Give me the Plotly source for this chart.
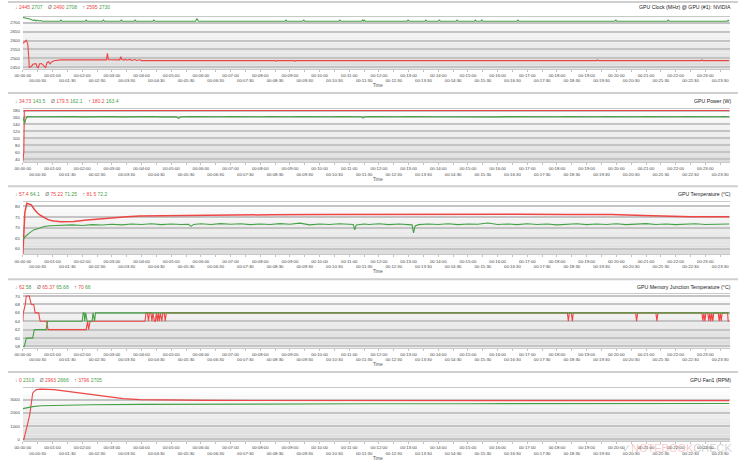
import plotly.graph_objects as go

W, H = 738, 466
RED = "#ee4545"
GREEN = "#46a046"
FONT = "Liberation Sans"

# ---------------- data (time in seconds) ----------------
CLOCK_RED_T = [0, 3, 7, 10, 12, 13, 17, 20, 23, 27, 29, 31, 34, 37, 40, 43, 46, 49, 52, 55, 59, 63, 70, 77,
               169, 171, 173, 196, 198, 200, 205, 207, 210, 215, 217, 220, 225, 227, 230, 235, 237, 240,
               256, 258, 260, 268, 270, 272, 281, 283, 285, 290, 292, 294, 393, 395, 397,
               510, 512, 514, 548, 550, 552, 580, 582, 585, 588, 591, 594, 598, 628, 630, 633, 636, 638,
               668, 670, 673, 676, 678, 700, 702, 706, 710, 714, 718, 722, 726, 730, 734, 736,
               1160, 1162, 1164, 1371, 1373, 1375, 1428]
CLOCK_RED_V = [2585, 2590, 2602, 2580, 2505, 2450, 2455, 2466, 2470, 2470, 2452, 2448, 2470, 2472, 2467, 2460, 2448, 2478, 2482, 2470, 2482, 2487, 2490, 2492,
               2492, 2528, 2493, 2492, 2510, 2494, 2491, 2496, 2490, 2491, 2495, 2489, 2490, 2494, 2489, 2489, 2493, 2488,
               2488, 2492, 2488, 2488, 2492, 2488, 2488, 2492, 2488, 2488, 2492, 2488, 2488, 2492, 2488,
               2488, 2484, 2488, 2488, 2484, 2488, 2488, 2484, 2488, 2484, 2488, 2484, 2488, 2488, 2484, 2488, 2484, 2488,
               2488, 2484, 2488, 2484, 2488, 2488, 2484, 2488, 2484, 2488, 2484, 2488, 2484, 2488, 2484, 2488,
               2488, 2492, 2488, 2488, 2492, 2488, 2488]

CLOCK_GREEN_T = [0, 5, 10, 14, 18, 21, 24, 27, 30, 33, 36, 40, 45,
                 75, 77, 79, 126, 128, 130, 161, 163, 165, 197, 199, 201, 225, 227, 229, 263, 265, 267, 349, 352, 355,
                 530, 532, 534, 566, 568, 570, 639, 641, 643, 685, 687, 689, 690, 692,
                 777, 779, 781, 813, 815, 817, 840, 842, 844, 876, 878, 880, 913, 915, 917, 926, 928, 930,
                 999, 1001, 1003, 1197, 1199, 1201, 1303, 1305, 1307, 1424, 1426, 1428]
CLOCK_GREEN_V = [2729, 2727, 2724, 2720, 2716, 2712, 2715, 2710, 2713, 2709, 2712, 2708, 2708,
                 2708, 2714, 2708, 2708, 2714, 2708, 2708, 2714, 2708, 2708, 2714, 2708, 2708, 2714, 2708, 2708, 2714, 2708, 2708, 2721, 2708,
                 2708, 2714, 2708, 2708, 2714, 2708, 2708, 2714, 2708, 2708, 2714, 2709, 2714, 2708,
                 2708, 2714, 2708, 2708, 2714, 2708, 2708, 2714, 2708, 2708, 2714, 2708, 2708, 2714, 2708, 2708, 2714, 2708,
                 2708, 2714, 2708, 2708, 2714, 2708, 2708, 2714, 2708, 2708, 2713, 2708]

POWER_RED_T = [0, 2, 3, 5, 160, 163, 166, 1428]
POWER_RED_V = [34.73, 60, 179.8, 180.0, 180.0, 180.2, 180.0, 180.0]

POWER_GREEN_T = [0, 2, 4, 6, 9, 20, 40, 60, 80, 100, 120, 140, 160, 180, 200, 220, 240, 260, 280, 300, 310, 315, 320,
                 340, 360, 380, 400, 420, 440, 460, 480, 500, 520, 540, 560, 580, 600, 620, 640, 660, 680, 685, 688, 691,
                 700, 720, 740, 760, 780, 800, 820, 840, 860, 880, 900, 920, 940, 960, 980, 1000, 1020, 1040, 1060, 1080,
                 1100, 1120, 1140, 1160, 1180, 1200, 1220, 1240, 1260, 1280, 1300, 1320, 1340, 1360, 1380, 1400, 1420, 1428]
POWER_GREEN_V = [159.5, 152, 143.5, 156, 162.5, 162.0, 162.6, 161.8, 162.4, 162.9, 161.9, 162.5, 162.1, 162.8, 161.7, 162.4, 162.0, 162.7, 161.9, 162.3, 162.0, 157.5, 162.2,
                 162.6, 161.8, 162.5, 162.1, 162.9, 161.9, 162.4, 162.0, 162.7, 161.8, 162.3, 162.6, 161.9, 162.4, 162.0, 162.8, 161.7, 162.3, 162.0, 158.5, 162.1,
                 162.5, 161.9, 162.6, 162.0, 162.4, 161.8, 162.7, 162.1, 162.3, 161.9, 162.6, 162.0, 162.4, 161.8, 162.5, 162.1, 162.8, 161.9, 162.3, 162.0,
                 162.6, 161.8, 162.4, 162.0, 162.7, 161.9, 162.3, 162.1, 162.6, 161.8, 162.4, 162.0, 162.5, 161.9, 162.3, 162.1, 162.5, 162.2]

TEMP_RED_T = [0, 2, 4, 8, 12, 17, 23, 30, 37, 44, 50, 57, 63, 77, 90, 103, 130, 157, 183, 210, 237, 270, 303, 370, 437,
              500, 600, 700, 800, 900, 1000, 1100, 1190, 1255, 1300, 1350, 1400, 1428]
TEMP_RED_V = [57.4, 66, 77, 81.5, 81.3, 80.8, 78.7, 76.8, 75.6, 74.6, 73.9, 73.4, 73.1, 72.8, 72.75, 72.9, 73.6, 74.2, 74.7, 75.1, 75.5, 75.6, 75.7, 75.9, 76.0,
              76.1, 76.2, 76.3, 76.3, 76.2, 76.3, 76.2, 76.2, 75.7, 75.4, 75.2, 75.1, 75.1]

TEMP_GREEN_T = [0, 5, 13, 22, 33, 43, 55, 66, 80, 100, 120, 140, 160, 180, 200, 220, 240, 260, 280, 300, 320, 335, 340, 345,
                360, 380, 400, 420, 440, 460, 480, 500, 520, 540, 560, 580, 600, 620, 640, 660, 668, 671, 674, 690, 700, 720,
                740, 760, 780, 787, 790, 793, 800, 820, 840, 860, 880, 900, 920, 940, 960, 980, 1000, 1020, 1040, 1060, 1080,
                1100, 1120, 1140, 1160, 1180, 1200, 1220, 1240, 1260, 1280, 1300, 1320, 1340, 1360, 1380, 1400, 1420, 1428]
TEMP_GREEN_V = [64.1, 65.8, 67.4, 68.9, 69.7, 70.5, 70.9, 71.0, 70.8, 71.3, 71.0, 71.4, 71.2, 71.6, 71.3, 71.7, 71.5, 71.8, 71.4, 71.7, 71.5, 71.6, 70.6, 71.5,
                71.8, 71.5, 71.9, 71.6, 71.8, 71.4, 71.7, 71.5, 71.9, 71.6, 72.1, 71.3, 71.7, 71.5, 71.8, 71.6, 71.5, 68.9, 71.2, 71.7, 71.5, 71.8,
                71.4, 71.7, 71.5, 71.3, 67.5, 70.8, 71.4, 71.7, 71.5, 71.8, 71.4, 71.7, 71.6, 72.2, 71.5, 71.7, 71.4, 71.8, 71.5, 71.7, 71.3,
                71.6, 71.8, 71.4, 71.7, 71.5, 71.8, 71.4, 71.6, 71.9, 71.5, 71.7, 71.4, 71.6, 71.8, 71.5, 71.7, 71.6, 71.7]

MEM_RED_T = [0, 1, 5, 7, 13, 17, 22, 25, 32, 35, 48, 51, 128, 131, 133, 136,
             247, 249, 252, 254, 256, 259, 261, 263, 266, 268, 270, 272, 274, 276, 278, 281, 283, 286, 288, 290,
             1101, 1103, 1105, 1109, 1111, 1113, 1239, 1241, 1243, 1280, 1282, 1284,
             1373, 1375, 1377, 1379, 1381, 1385, 1387, 1389, 1391, 1393, 1395, 1397, 1399,
             1406, 1408, 1410, 1412, 1414, 1425, 1426, 1428]
MEM_RED_V = [64, 66, 68, 70, 70, 68, 68, 66, 66, 64, 64, 62, 62, 64, 62, 64,
             64, 66, 66, 64, 66, 66, 64, 66, 64, 64, 66, 64, 66, 64, 66, 64, 66, 66, 64, 66,
             66, 64, 66, 66, 64, 66, 66, 64, 66, 66, 64, 66,
             66, 64, 66, 64, 66, 66, 64, 66, 64, 66, 64, 66, 66,
             66, 64, 66, 64, 66, 66, 64, 64]

MEM_GREEN_T = [0, 3, 7, 20, 23, 47, 50, 120, 122, 124, 125, 127, 130, 140, 142, 145, 147, 1428]
MEM_GREEN_V = [58, 58, 60, 60, 62, 62, 64, 64, 66, 66, 64, 66, 64, 64, 66, 64, 66, 66]

FAN_RED_T = [0, 2, 7, 9, 11, 14, 17, 20, 27, 33, 37, 63, 103, 137, 170, 203, 237, 303, 370, 470, 600, 800, 1000, 1200, 1428]
FAN_RED_V = [0, 0, 750, 1250, 1375, 1870, 2870, 3500, 3750, 3796, 3790, 3750, 3550, 3370, 3200, 3075, 3000, 2950, 2940, 2930, 2930, 2925, 2925, 2920, 2920]

FAN_GREEN_T = [0, 8, 20, 37, 70, 137, 237, 350, 500, 700, 900, 1100, 1300, 1428]
FAN_GREEN_V = [2319, 2400, 2470, 2530, 2570, 2610, 2640, 2660, 2672, 2682, 2690, 2697, 2702, 2705]

TITLES = ["GPU Clock (MHz) @ GPU (#1): NVIDIA", "GPU Power (W)", "GPU Temperature (°C)",
          "GPU Memory Junction Temperature (°C)", "GPU Fan1 (RPM)"]
MIN_VALUES = [("2445", "2707"), ("34.73", "143.5"), ("57.4", "64.1"), ("62", "58"), ("0", "2319")]
AVG_VALUES = [("2490", "2708"), ("179.5", "162.1"), ("75.22", "71.25"), ("65.37", "65.68"), ("2963", "2666")]
MAX_VALUES = [("2595", "2730"), ("180.2", "163.4"), ("81.5", "72.2"), ("70", "66"), ("3796", "2705")]

Y_TICKS = [[2450, 2500, 2550, 2600, 2650, 2700],
           [40, 60, 80, 100, 120, 140, 160, 180],
           [60, 65, 70, 75, 80],
           [58, 60, 62, 64, 66, 68, 70],
           [0, 1000, 2000, 3000]]
Y_RANGES = [[2442.8, 2731.7], [31.4, 185.7], [57.3, 82.3], [57.76, 70.54], [-128, 3885]]

TICK_SECONDS = list(range(0, 1411, 30))
TICK_TEXT = [("<br>" if s % 60 else "") + "00:%02d:%02d" % (s // 60, s % 60) for s in TICK_SECONDS]
X_RANGE = [0, 1430]

SERIES = [(CLOCK_RED_T, CLOCK_RED_V, CLOCK_GREEN_T, CLOCK_GREEN_V),
          (POWER_RED_T, POWER_RED_V, POWER_GREEN_T, POWER_GREEN_V),
          (TEMP_RED_T, TEMP_RED_V, TEMP_GREEN_T, TEMP_GREEN_V),
          (MEM_RED_T, MEM_RED_V, MEM_GREEN_T, MEM_GREEN_V),
          (FAN_RED_T, FAN_RED_V, FAN_GREEN_T, FAN_GREEN_V)]

# ---------------- layout geometry (pixels) ----------------
PLOT_LEFT, PLOT_RIGHT = 15, 730
PANEL_TOP = [16, 108, 201.5, 294, 388.5]
PANEL_BOTTOM = [68, 162, 254.5, 348, 442]
LEGEND_Y = [6, 100, 194, 287, 380.5]
SEPARATORS = [1, 92.5, 186, 279.5, 372.5]
TIME_Y = [85, 179, 272, 365, 459]


def fx(px):
    return px / W


def fy(px):
    return 1 - px / H


fig = go.Figure()
layout = dict(
    width=W, height=H, margin=dict(l=0, r=0, t=0, b=0),
    paper_bgcolor="white", plot_bgcolor="rgba(0,0,0,0)",
    showlegend=False, font=dict(family=FONT, size=5, color="#444"),
)
shapes = []
annotations = []

for i in range(5):
    sfx = "" if i == 0 else str(i + 1)
    xname, yname = "x" + sfx, "y" + sfx
    rt, rv, gt, gv = SERIES[i]
    red_w = 1.5 if i == 2 else 1.1
    fig.add_trace(go.Scatter(x=rt, y=rv, mode="lines", line=dict(color=RED, width=red_w),
                             xaxis=xname, yaxis=yname, hoverinfo="skip"))
    fig.add_trace(go.Scatter(x=gt, y=gv, mode="lines", line=dict(color=GREEN, width=1.1),
                             xaxis=xname, yaxis=yname, hoverinfo="skip"))
    layout["xaxis" + sfx] = dict(
        domain=[fx(PLOT_LEFT), fx(PLOT_RIGHT)], anchor=yname, range=X_RANGE,
        tickmode="array", tickvals=TICK_SECONDS, ticktext=TICK_TEXT,
        tickfont=dict(size=4.3, color="#444", family=FONT), tickangle=0,
        ticks="outside", ticklen=2, tickcolor="#999", tickwidth=0.6,
        showgrid=False, zeroline=False, showline=True, linecolor="#c8c8c8", linewidth=1, mirror=True,
        fixedrange=True,
    )
    layout["yaxis" + sfx] = dict(
        domain=[fy(PANEL_BOTTOM[i]), fy(PANEL_TOP[i])], anchor=xname, range=Y_RANGES[i],
        tickmode="array", tickvals=Y_TICKS[i],
        tickfont=dict(size=4.3, color="#444", family=FONT),
        ticks="", showgrid=True, gridcolor="#c4c4c4", gridwidth=2,
        zeroline=False, showline=False, fixedrange=True, ticklabelstandoff=2,
    )
    # background gradient
    n = 16
    for k in range(n):
        c = int(round(219 + 36 * (k + 0.5) / n))
        shapes.append(dict(type="rect", xref=xname + " domain", yref=yname + " domain",
                           x0=0, x1=1, y0=k / n, y1=(k + 1) / n, layer="below",
                           line=dict(width=0), fillcolor="rgb(%d,%d,%d)" % (c, c, c)))
    # panel separator
    shapes.append(dict(type="line", xref="paper", yref="paper", x0=0, x1=1,
                       y0=fy(SEPARATORS[i]), y1=fy(SEPARATORS[i]),
                       line=dict(color="#cfcfcf", width=2)))
    sp = "\u00a0"
    legend = ("<span style='color:#777'>↓</span>" + sp +
              "<span style='color:%s'>%s</span>" % (RED, MIN_VALUES[i][0]) + sp +
              "<span style='color:%s'>%s</span>" % (GREEN, MIN_VALUES[i][1]) + sp * 4 +
              "<span style='color:#777'>Ø</span>" + sp +
              "<span style='color:%s'>%s</span>" % (RED, AVG_VALUES[i][0]) + sp +
              "<span style='color:%s'>%s</span>" % (GREEN, AVG_VALUES[i][1]) + sp * 4 +
              "<span style='color:#777'>↑</span>" + sp +
              "<span style='color:%s'>%s</span>" % (RED, MAX_VALUES[i][0]) + sp +
              "<span style='color:%s'>%s</span>" % (GREEN, MAX_VALUES[i][1]))
    annotations.append(dict(text=legend, xref="paper", yref="paper", x=fx(5), y=fy(LEGEND_Y[i]),
                            xanchor="left", yanchor="middle", showarrow=False,
                            font=dict(size=5, family=FONT)))
    annotations.append(dict(text=TITLES[i], xref="paper", yref="paper", x=fx(733), y=fy(LEGEND_Y[i]),
                            xanchor="right", yanchor="middle", showarrow=False,
                            font=dict(size=5.2, family=FONT, color="#222")))
    annotations.append(dict(text="Time", xref="paper", yref="paper", x=fx(374), y=fy(TIME_Y[i]),
                            xanchor="center", yanchor="middle", showarrow=False,
                            font=dict(size=4.5, family=FONT, color="#555")))

# watermark
annotations.append(dict(
    text="<span style='color:rgba(120,120,120,0.35)'>✓</span><span style='color:rgba(225,70,70,0.3)'>NOTEBOOK</span><span style='color:rgba(120,120,120,0.35)'>CHECK</span>",
    xref="paper", yref="paper", x=fx(735), y=fy(449), xanchor="right", yanchor="middle",
    showarrow=False, font=dict(size=11, family=FONT)))

layout["shapes"] = shapes
layout["annotations"] = annotations
fig.update_layout(**layout)
fig.write_html("out.html", config={"displayModeBar": False, "staticPlot": True},
               post_script="document.body.style.margin='0px';document.body.style.padding='0px';"
                           "document.body.style.overflow='hidden';")
